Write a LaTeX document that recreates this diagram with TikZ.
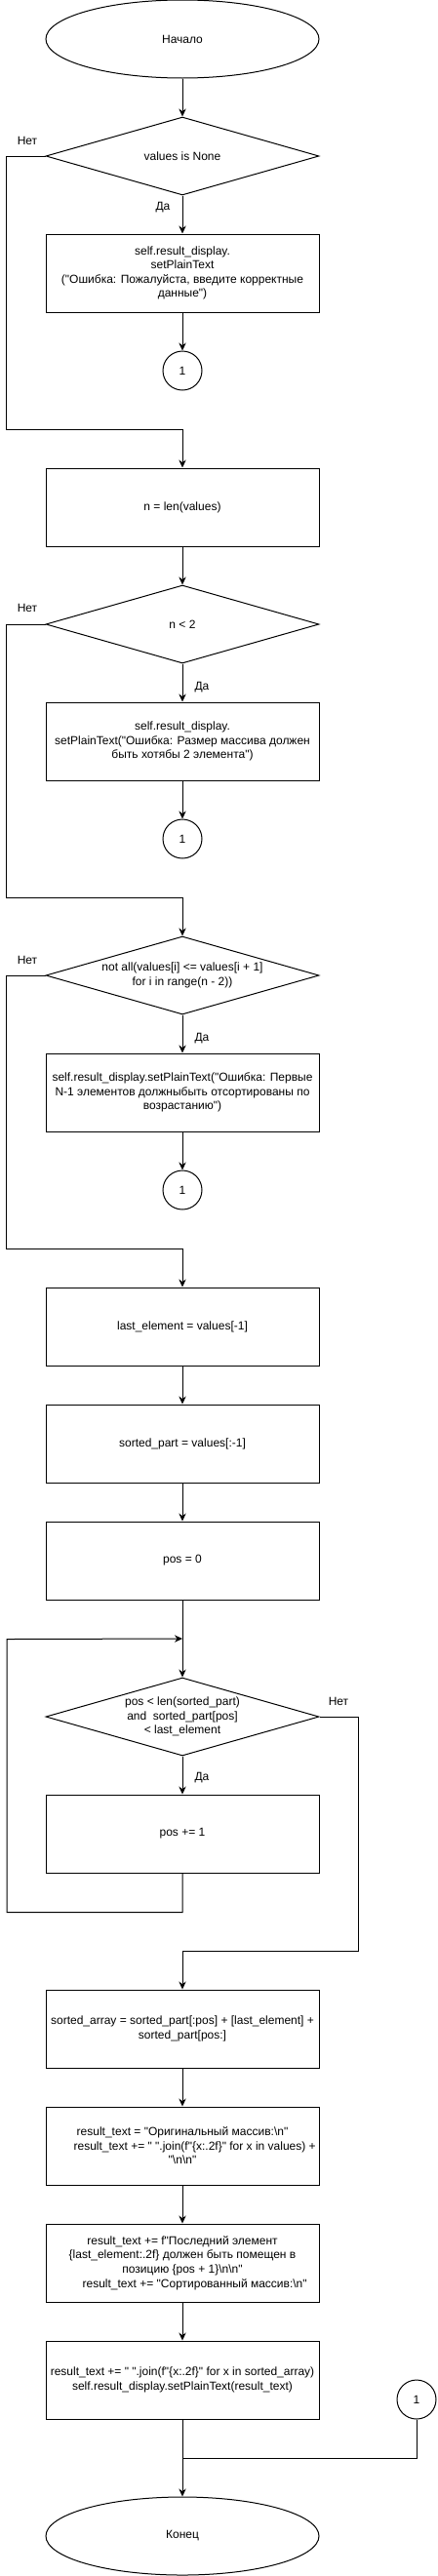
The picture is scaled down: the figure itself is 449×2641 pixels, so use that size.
\documentclass[tikz,border=0pt]{standalone}
\usepackage{fontspec}
\newfontfamily\fuente{Liberation Sans}
\usepackage{tikz}
\usetikzlibrary{shapes.geometric,arrows.meta}

\tikzset{
    bloque/.style={draw, rectangle, minimum width=210pt, minimum height=60pt, inner sep=0pt, align=center},
    decision/.style={draw, diamond, aspect=3.5, minimum width=210pt, minimum height=60pt, inner sep=0pt, align=center},
    terminal/.style={draw, ellipse, minimum width=210pt, minimum height=60pt, inner sep=0pt},
    conector/.style={draw, circle, minimum size=30pt, inner sep=0pt},
    flecha/.style={-{Stealth[length=6pt,width=5.5pt]}},
    etiqueta/.style={inner sep=0pt}
}

\begin{document}
\begin{tikzpicture}[x=0.75pt, y=-0.75pt, line width=0.75pt, font=\fuente\fontsize{9}{10.9}\selectfont]
            \useasboundingbox (0,0) rectangle (449,2641);
            % Inicio y primera comprobacion
            \node[terminal] (inicio) at (187,40) {Начало};
            \node[decision] (d1) at (187,160) {values is None};
            \node[bloque] (err1) at (187,280) {self.result\_display.\\setPlainText\\("Ошибка: Пожалуйста, введите корректные\\данные")};
            \node[conector] (c1) at (187,380) {1};
            \coordinate (j1) at (187,440);
            \node[etiqueta] (no1) at (28,144) {Нет};
            \node[etiqueta] (si1) at (167,213) {Да};

            % Tamano del arreglo
            \node[bloque] (nlen) at (187,520) {n = len(values)};
            \node[decision] (d2) at (187,640) {n < 2};
            \node[bloque] (err2) at (187,760) {self.result\_display.\\setPlainText("Ошибка: Размер массива должен\\быть хотябы 2 элемента")};
            \node[conector] (c2) at (187,860) {1};
            \coordinate (j2) at (187,920);
            \node[etiqueta] (no2) at (28,623) {Нет};
            \node[etiqueta] (si2) at (207,705) {Да};

            % Parte ordenada
            \node[decision] (d3) at (187,1000) {not all(values[i] <= values[i + 1]\\for i in range(n - 2))};
            \node[bloque] (err3) at (187,1120) {self.result\_display.setPlainText("Ошибка: Первые\\N-1 элементов должныбыть отсортированы по\\возрастанию")};
            \node[conector] (c3) at (187,1220) {1};
            \coordinate (j3) at (187,1280);
            \node[etiqueta] (no3) at (28,984) {Нет};
            \node[etiqueta] (si3) at (207,1065) {Да};

            % Busqueda de la posicion
            \node[bloque] (last) at (187,1360) {last\_element = values[-1]};
            \node[bloque] (spart) at (187,1480) {sorted\_part = values[:-1]};
            \node[bloque] (pos0) at (187,1600) {pos = 0};
            \coordinate (j4) at (187,1680);
            \node[decision] (d4) at (187,1760) {pos < len(sorted\_part)\\ and\ \ sorted\_part[pos]\\< last\_element};
            \node[bloque] (inc) at (187,1880) {pos += 1};
            \coordinate (j5) at (187,2000);
            \node[etiqueta] (no4) at (347,1744) {Нет};
            \node[etiqueta] (si4) at (207,1823) {Да};

            % Resultado
            \node[bloque] (sarr) at (187,2080) {sorted\_array = sorted\_part[:pos] + [last\_element] +\\sorted\_part[pos:]};
            \node[bloque] (rt1) at (187,2200) {result\_text = "Оригинальный массив:\textbackslash n"\\\hspace*{19pt}result\_text += " ".join(f"\{x:.2f\}" for x in values) +\\"\textbackslash n\textbackslash n"};
            \node[bloque] (rt2) at (187,2320) {result\_text += f"Последний элемент\\\{last\_element:.2f\} должен быть помещен в\\позицию \{pos + 1\}\textbackslash n\textbackslash n"\\\hspace*{19pt}result\_text += "Сортированный массив:\textbackslash n"};
            \node[bloque] (rt3) at (187,2440) {result\_text += " ".join(f"\{x:.2f\}" for x in sorted\_array)\\self.result\_display.setPlainText(result\_text)};
            \node[conector] (c4) at (427,2460) {1};
            \coordinate (j6) at (187,2520);
            \node[terminal] (fin) at (187,2600) {Конец};

            % Flechas
            \draw[flecha] (inicio) -- (d1);
            \draw[flecha] (d1) -- (err1);
            \draw[flecha] (err1) -- (c1);
            \draw[flecha] (d1.west) -- ++(-40,0) |- (j1) -- (nlen);
            \draw[flecha] (nlen) -- (d2);
            \draw[flecha] (d2) -- (err2);
            \draw[flecha] (err2) -- (c2);
            \draw[flecha] (d2.west) -- ++(-40,0) |- (j2) -- (d3);
            \draw[flecha] (d3) -- (err3);
            \draw[flecha] (err3) -- (c3);
            \draw[flecha] (d3.west) -- ++(-40,0) |- (j3) -- (last);
            \draw[flecha] (last) -- (spart);
            \draw[flecha] (spart) -- (pos0);
            \draw[flecha] (pos0) -- (d4);
            \draw[flecha] (d4) -- (inc);
            \draw[flecha] (inc.south) -- ++(0,40) -- ++(-180,0) -- ++(0,-280) -- (j4);
            \draw[flecha] (d4.east) -- ++(40,0) |- (j5) -- (sarr);
            \draw[flecha] (sarr) -- (rt1);
            \draw[flecha] (rt1) -- (rt2);
            \draw[flecha] (rt2) -- (rt3);
            \draw[flecha] (rt3) -- (fin);
            \draw (c4) |- (j6);
\end{tikzpicture}
\end{document}
